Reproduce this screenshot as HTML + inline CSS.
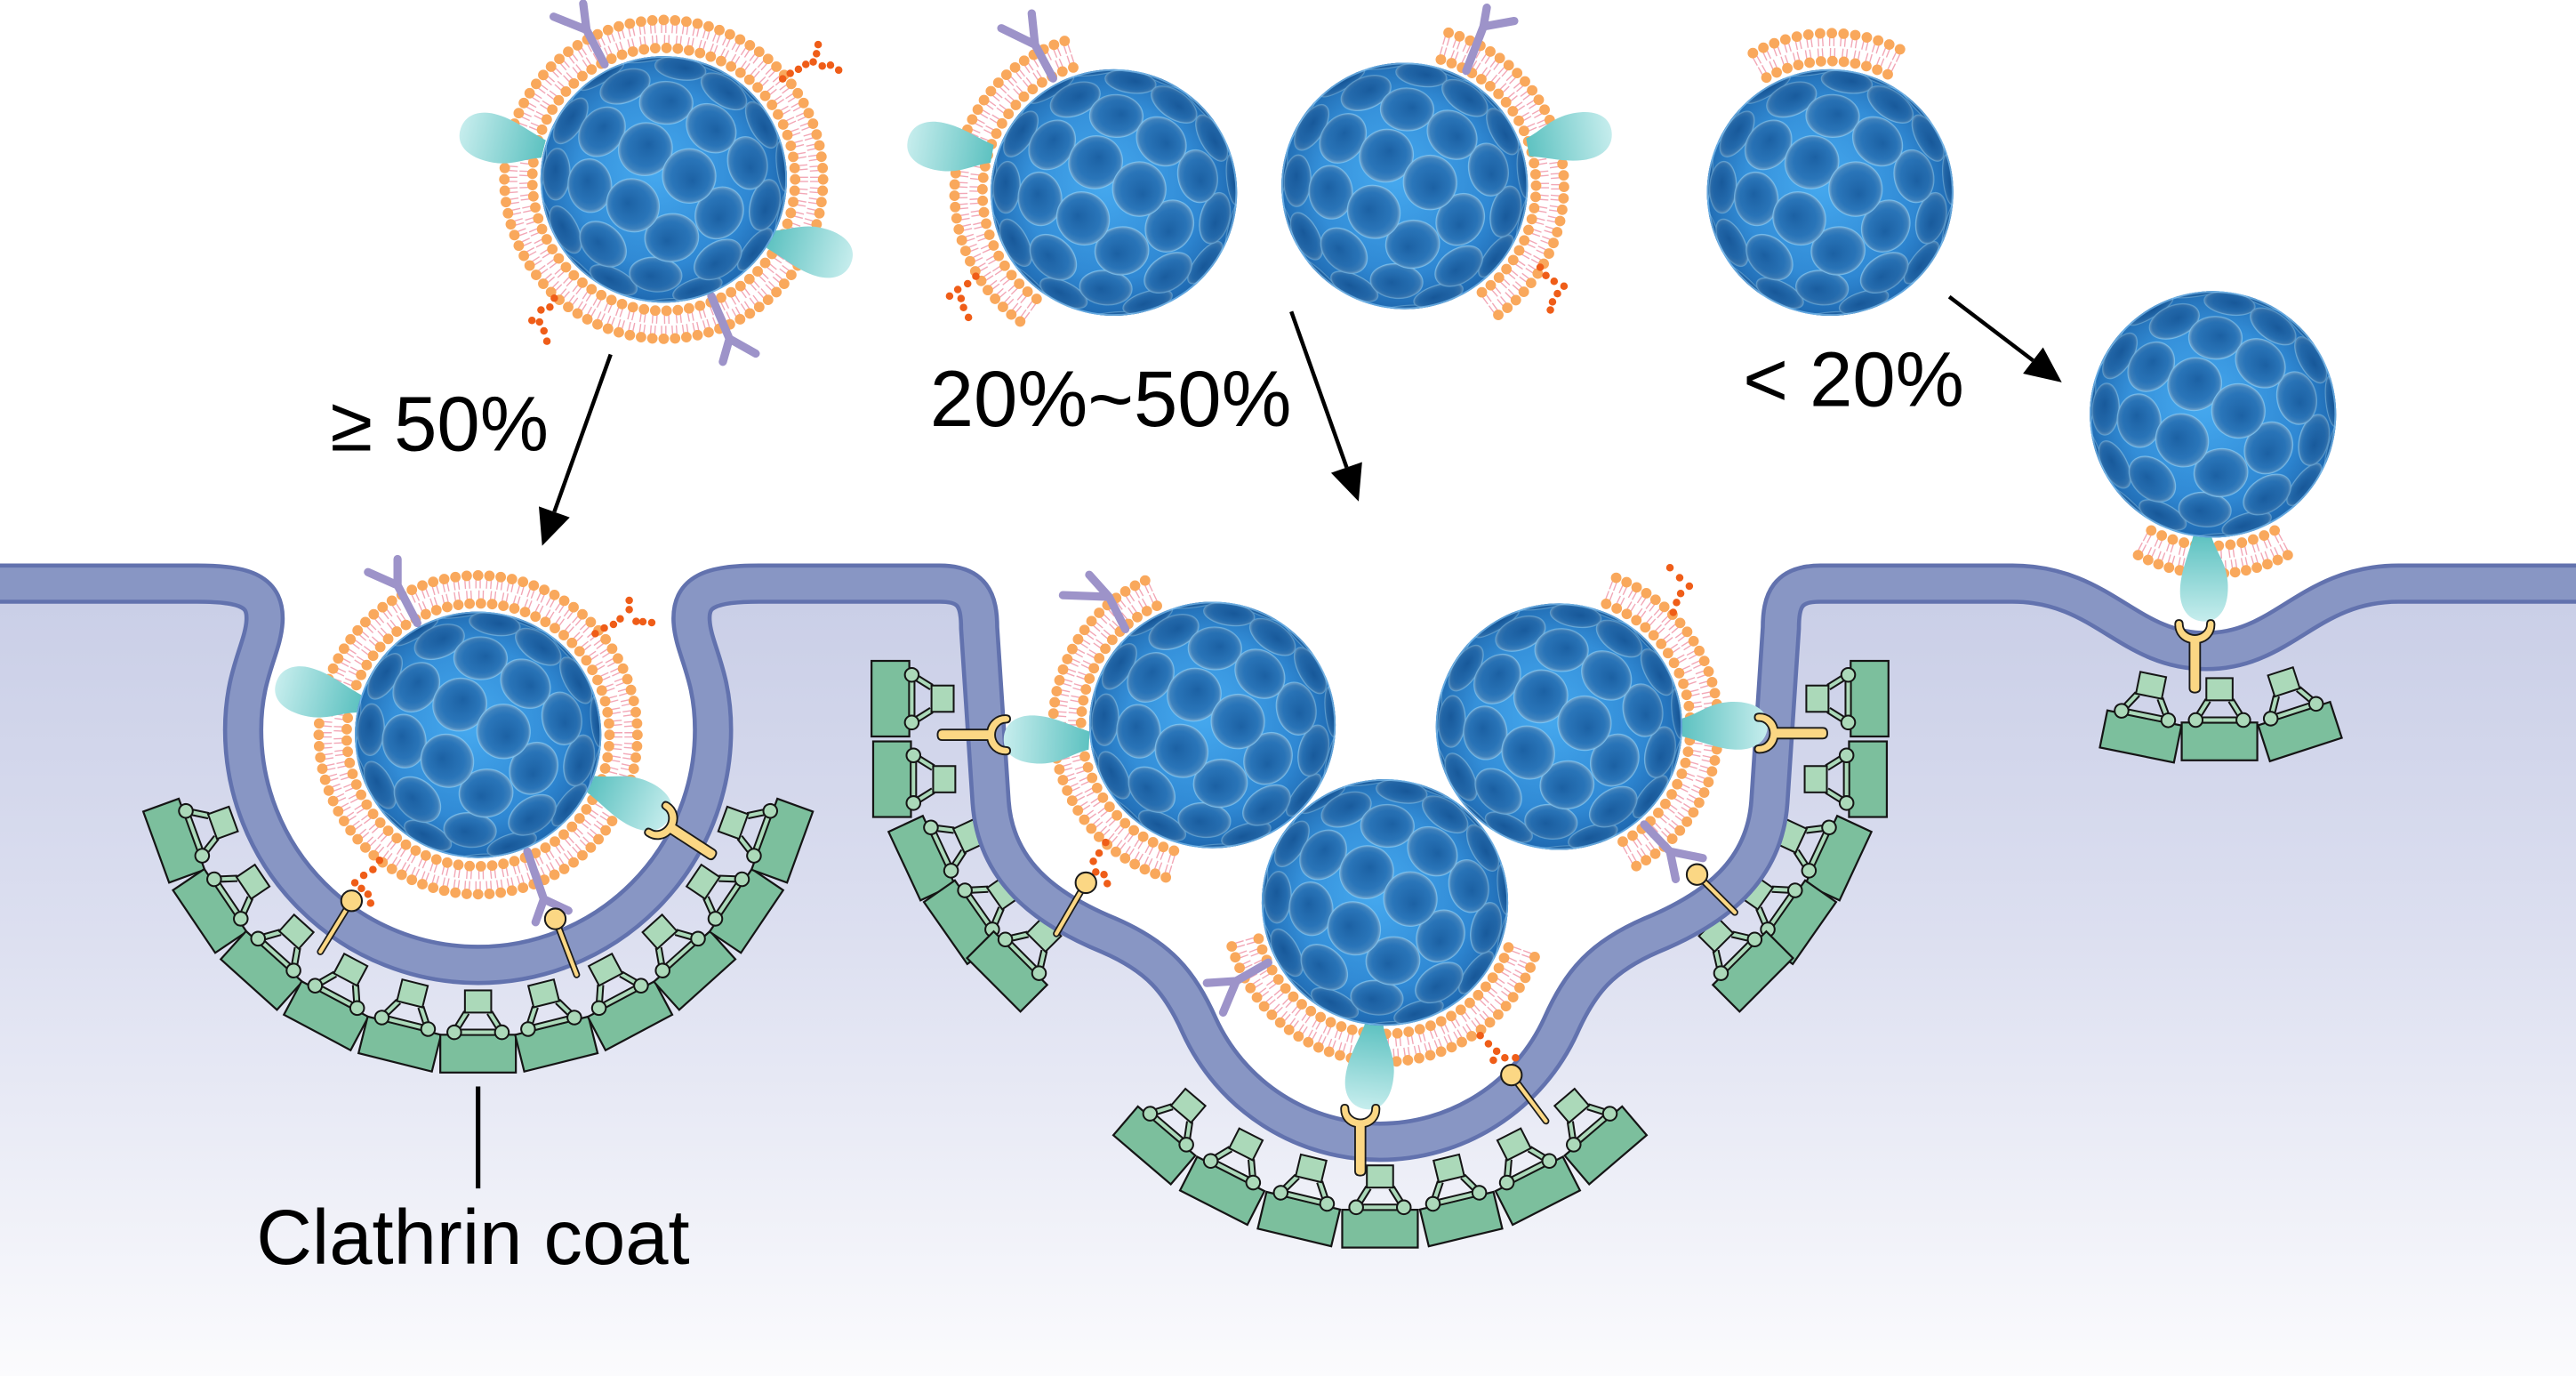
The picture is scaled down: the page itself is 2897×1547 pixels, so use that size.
<!DOCTYPE html>
<html><head><meta charset="utf-8">
<style>html,body{margin:0;padding:0;background:#fff;overflow:hidden}svg{display:block}</style>
</head><body>
<svg id="s" xmlns="http://www.w3.org/2000/svg" width="2897" height="1547" viewBox="0 0 1568 837">
<defs>
 <linearGradient id="cyto" x1="0" y1="345" x2="0" y2="837" gradientUnits="userSpaceOnUse">
  <stop offset="0" stop-color="#c8cde6"/>
  <stop offset="0.45" stop-color="#dcdff0"/>
  <stop offset="1" stop-color="#fbfbfd"/>
 </linearGradient>
 <radialGradient id="npBase" cx="0.45" cy="0.45" r="0.55">
  <stop offset="0" stop-color="#46aaf0"/><stop offset="1" stop-color="#2a82d0"/>
 </radialGradient>
 <radialGradient id="cell" cx="0.5" cy="0.5" r="0.5" fx="0.55" fy="0.6">
  <stop offset="0" stop-color="#1c62a5"/><stop offset="0.7" stop-color="#2a76ba"/><stop offset="0.9" stop-color="#3f84c0"/><stop offset="1" stop-color="#7eaed3"/>
 </radialGradient>
 <radialGradient id="npShade" cx="0.5" cy="0.5" r="0.5">
  <stop offset="0" stop-color="#0a3c78" stop-opacity="0"/><stop offset="0.7" stop-color="#0a3c78" stop-opacity="0.05"/><stop offset="1" stop-color="#0a3c78" stop-opacity="0.35"/>
 </radialGradient>
 <linearGradient id="lig" x1="0" y1="0" x2="1" y2="0">
  <stop offset="0" stop-color="#5ec2c1"/><stop offset="1" stop-color="#c6eded"/>
 </linearGradient>
 <clipPath id="npc"><circle r="75"/></clipPath>
 <g id="np"></g>
</defs>
<rect width="1568" height="837" fill="#fff"/>
<path fill="url(#cyto)" d="M-10,355 L120,355 C150,355 162,360 161,378 C160,395 148,410 148,444 A143,143 0 0 0 434,444 C434,410 422,395 421,378 C420,360 432,355 462,355 L572,355 C592,355 596,365 596,382 L603,488 C606,530 636,553 675,569 C705,582 718,597 730,624 A121,121 0 0 0 950,624 C962,597 975,582 1005,569 C1044,553 1074,530 1077,488 L1084,382 C1084,365 1088,355 1108,355 L1225,355 C1280,355 1295,396 1343,396 C1390,396 1405,355 1460,355 L1580,355 L1580,850 L-10,850 Z"/>
<g id="coat"></g>
<path fill="none" stroke="#6272ae" stroke-width="24.5" stroke-linejoin="round" d="M-10,355 L120,355 C150,355 162,360 161,378 C160,395 148,410 148,444 A143,143 0 0 0 434,444 C434,410 422,395 421,378 C420,360 432,355 462,355 L572,355 C592,355 596,365 596,382 L603,488 C606,530 636,553 675,569 C705,582 718,597 730,624 A121,121 0 0 0 950,624 C962,597 975,582 1005,569 C1044,553 1074,530 1077,488 L1084,382 C1084,365 1088,355 1108,355 L1225,355 C1280,355 1295,396 1343,396 C1390,396 1405,355 1460,355 L1580,355"/>
<path fill="none" stroke="#8896c4" stroke-width="19.5" stroke-linejoin="round" d="M-10,355 L120,355 C150,355 162,360 161,378 C160,395 148,410 148,444 A143,143 0 0 0 434,444 C434,410 422,395 421,378 C420,360 432,355 462,355 L572,355 C592,355 596,365 596,382 L603,488 C606,530 636,553 675,569 C705,582 718,597 730,624 A121,121 0 0 0 950,624 C962,597 975,582 1005,569 C1044,553 1074,530 1077,488 L1084,382 C1084,365 1088,355 1108,355 L1225,355 C1280,355 1295,396 1343,396 C1390,396 1405,355 1460,355 L1580,355"/>
<g id="nps"></g>
<g id="rec"></g>
<g id="arrows" fill="#000">
 <line x1="371.7" y1="215.5" x2="337.4" y2="311.3" stroke="#000" stroke-width="2.4"/>
 <polygon points="330,332 346.8,314.7 328,308"/>
 <line x1="786" y1="189.4" x2="819.7" y2="284.3" stroke="#000" stroke-width="2.4"/>
 <polygon points="827,305 829.1,281 810.2,287.6"/>
 <line x1="1186.5" y1="180.4" x2="1237.5" y2="219.2" stroke="#000" stroke-width="2.4"/>
 <polygon points="1255,232.5 1231.4,227.2 1243.6,211.2"/>
 <line x1="291" y1="661" x2="291" y2="723" stroke="#000" stroke-width="2.8"/>
</g>
<g font-family="'Liberation Sans', Arial, sans-serif" fill="#000">
 <text x="201" y="274" font-size="47">≥ 50%</text>
 <text x="566" y="259" font-size="48">20%~50%</text>
 <text x="1061" y="247" font-size="47">&lt; 20%</text>
 <text x="156" y="769" font-size="47">Clathrin coat</text>
</g>
</svg>
<script>
(function(){
const D=Math.PI/180;
function r2(n){return Math.round(n*100)/100;}
/* ---------- nanoparticle sphere ---------- */
let g='<circle r="75" fill="url(#npBase)"/><g clip-path="url(#npc)">';
const R=75,N=66,GA=Math.PI*(3-Math.sqrt(5));
let pts=[];
const tx=0.45,ty=0.25;
for(let i=0;i<N;i++){
 let y=1-2*(i+0.5)/N, rr=Math.sqrt(1-y*y), ph=i*GA;
 let x=Math.cos(ph)*rr, z=Math.sin(ph)*rr;
 let y2=y*Math.cos(tx)-z*Math.sin(tx), z2=y*Math.sin(tx)+z*Math.cos(tx);
 let x3=x*Math.cos(ty)+z2*Math.sin(ty), z3=-x*Math.sin(ty)+z2*Math.cos(ty);
 pts.push([x3,y2,z3]);
}
pts.sort((a,b)=>a[2]-b[2]);
const rc=R*0.222;
for(const p of pts){
 const x=p[0],y=p[1],z=p[2];
 if(z<0.0) continue;
 const X=x*R,Y=y*R,a=Math.atan2(y,x)/D;
 const rad=rc*Math.max(z,0.14), tan=rc*(0.9+0.1*z);
 g+='<ellipse cx="'+r2(X)+'" cy="'+r2(Y)+'" rx="'+r2(rad)+'" ry="'+r2(tan)+'" transform="rotate('+r2(a)+' '+r2(X)+' '+r2(Y)+')" fill="url(#cell)" stroke="#86cdfa" stroke-width="0.6" stroke-opacity="0.7"/>';
}
g+='</g><circle r="75" fill="url(#npShade)"/><circle r="74.5" fill="none" stroke="#8fd0ff" stroke-width="1" stroke-opacity="0.6"/>';
document.getElementById('np').innerHTML=g;

/* ---------- helpers ---------- */
function bilayer(cx,cy,a0,a1){
 const rI=80,rO=97,rm=(rI+rO)/2;
 const full=(a1-a0)>=359;
 let t='',h='';
 function ring(r,sp,tailTo){
  const A0=a0*D,A1=a1*D;
  const n=Math.max(1,Math.round((A1-A0)*r/sp));
  const cnt=full?n:n+1;
  for(let k=0;k<cnt;k++){
   const t0=A0+(A1-A0)*k/n, c=Math.cos(t0), s=Math.sin(t0);
   h+='<circle cx="'+r2(cx+r*c)+'" cy="'+r2(cy+r*s)+'" r="3.2"/>';
   for(const dd of [-1.3,1.3]){
    const px=-s*dd,py=c*dd;
    const ra=r+(tailTo>r?2.5:-2.5);
    t+='M'+r2(cx+ra*c+px)+','+r2(cy+ra*s+py)+'L'+r2(cx+tailTo*c+px)+','+r2(cy+tailTo*s+py);
   }
  }
 }
 ring(rO,6.9,rm+0.6);
 ring(rI,6.9,rm-0.6);
 return '<path d="'+t+'" stroke="#f2a7b6" stroke-width="0.75" fill="none"/><g fill="#f9a85c">'+h+'</g>';
}
function lig(x,y,a,sc){return '<path transform="translate('+x+','+y+') rotate('+a+') scale('+(sc||1)+')" d="M0,-6 C10,-9 16,-15 28,-16 C42,-17 52,-12 52,-2 C52,8 44,13 34,13 C22,13 12,8 0,5 Z" fill="url(#lig)"/>';}
function pY(b,br,e1,e2){return '<path d="M'+b+'L'+br+'L'+e1+'M'+br+'L'+e2+'" stroke="#9d93c9" stroke-width="5" stroke-linecap="round" stroke-linejoin="round" fill="none"/>';}
function gly(arr){let s='<g fill="#ef5d18">';for(const p of arr){s+='<circle cx="'+p[0]+'" cy="'+p[1]+'" r="2.3"/>';}return s+'</g>';}
function sph(x,y){return '<use href="#np" x="'+x+'" y="'+y+'"/>';}
const YP="M-13,-11 C-13,-4 -8,0 -3.5,1 L-3.5,31 Q-3.5,34 0,34 Q3.5,34 3.5,31 L3.5,1 C8,0 13,-4 13,-11 Q13,-14 10.5,-14 Q8,-14 8,-11 C8,-7 4,-4 0,-4 C-4,-4 -8,-7 -8,-11 Q-8,-14 -10.5,-14 Q-13,-14 -13,-11 Z";
function yR(x,y,th,sc){return '<path transform="translate('+x+','+y+') rotate('+th+') scale('+(sc||1)+')" d="'+YP+'" fill="#fbd784" stroke="#1b1b1b" stroke-width="1.1"/>';}
function lol(bx,by,ex,ey){return '<line x1="'+bx+'" y1="'+by+'" x2="'+ex+'" y2="'+ey+'" stroke="#1b1b1b" stroke-width="4.2" stroke-linecap="round"/><line x1="'+bx+'" y1="'+by+'" x2="'+ex+'" y2="'+ey+'" stroke="#fbd784" stroke-width="2.3" stroke-linecap="round"/><circle cx="'+bx+'" cy="'+by+'" r="6.3" fill="#fbd784" stroke="#1b1b1b" stroke-width="1.1"/>';}
function unit(x,y,th){
 const fr="M-7,-25 L-14.5,-13 L14.5,-13 L7,-25";
 return '<g transform="translate('+r2(x)+','+r2(y)+') rotate('+r2(th)+')">'+
 '<rect x="-23" y="-11.5" width="46" height="23" fill="#7cbf9d" stroke="#151515" stroke-width="1.2"/>'+
 '<path d="'+fr+'" fill="none" stroke="#151515" stroke-width="4.4" stroke-linejoin="round"/>'+
 '<path d="'+fr+'" fill="none" stroke="#abd9b9" stroke-width="2.2" stroke-linejoin="round"/>'+
 '<circle cx="-14.5" cy="-13" r="4.2" fill="#abd9b9" stroke="#151515" stroke-width="1.1"/>'+
 '<circle cx="14.5" cy="-13" r="4.2" fill="#abd9b9" stroke="#151515" stroke-width="1.1"/>'+
 '<rect x="-8" y="-38.5" width="16" height="13.5" fill="#abd9b9" stroke="#151515" stroke-width="1.1"/></g>';
}

/* ---------- clathrin coat ---------- */
let c='';
for(let p=-70;p<=70;p+=14){c+=unit(291+197*Math.sin(p*D),444+197*Math.cos(p*D),-p);}
const L=[[542,425,90],[543,474,90],[561,522,65],[585,561,55],[613,591,45]];
for(const u of L){c+=unit(u[0],u[1],u[2]);c+=unit(1680-u[0],u[1],-u[2]);}
for(let k=-3;k<=3;k++){const p=k*13.5;c+=unit(840+211.5*Math.sin(p*D),536+211.5*Math.cos(p*D),-p);}
c+=unit(1303,448,11.5)+unit(1351,451,0)+unit(1400,445,-18);
document.getElementById('coat').innerHTML=c;

/* ---------- nanoparticles ---------- */
let n='';
// NP1
n+=bilayer(404,109,0,360);
n+=pY('368,39','357,18','355,2','337,10')+pY('433,180','444,206','440,220','460,215');
n+=lig(331,90,194)+lig(468,146,16);
n+=sph(404,109);
n+=gly([[476.4,47.8],[481,44.5],[486,42],[490.5,39],[495,37.5],[497,32.5],[498,27],[500.5,40],[505.5,39.5],[510.5,42.5]]);
n+=gly([[337.4,181.3],[334.7,186.7],[329.3,188.5],[323.8,194.8],[328.4,195.8],[331.1,201.2],[332.9,207.5]]);
// NP2
n+=bilayer(678,117,126,252);
n+=pY('641,47.6','630,27','628,8','609.5,17');
n+=lig(604,93,190);
n+=sph(678,117);
n+=gly([[594,168],[589,172.5],[583,176],[578,180],[585,181.5],[586.5,187],[589.5,193]]);
// NP3
n+=bilayer(855,113,-74,54);
n+=pY('892.5,43','903,16','905,4.5','921.7,12.6');
n+=lig(930,90,-10);
n+=sph(855,113);
n+=gly([[937.5,162.5],[941,167.5],[946,171],[952,174],[948,178.5],[945,183.5],[943.7,188.5]]);
// NP4
n+=bilayer(1114,117,-119,-64);
n+=sph(1114,117);
// NP5
n+=bilayer(1347,252,62,118);
n+=lig(1340,326,90);
n+=sph(1347,252);
// Pit1 NP
n+=bilayer(291,447,0,360);
n+=pY('254,379','242,356','242,340','224,348')+pY('321,518','331,547','326,561','346,554');
n+=lig(218.6,427.6,195)+lig(359.5,477.5,24);
n+=sph(291,447);
n+=gly([[362.3,385.4],[367.8,382],[373.4,379.8],[377.5,376.4],[383,370.8],[383,365.2],[387.2,378],[391.3,378.2],[396.7,378.7]]);
n+=gly([[231,523.4],[227,529],[221.4,532.5],[216,537],[220,540.5],[224,544],[225.6,549.4]]);
// Pit2 upper-left
n+=bilayer(738,441,107,245);
n+=pY('685,382.7','675,363','663,349.6','647,362');
n+=lig(663,450,183);
n+=sph(738,441);
n+=gly([[673,512.5],[669,519],[665.5,524],[667,530.5],[672,532],[674,537.5]]);
// Pit2 upper-right
n+=bilayer(949,442,-69,61);
n+=pY('1000.8,501.5','1016.5,518','1020,534.8','1036.5,522');
n+=lig(1024,443,0);
n+=sph(949,442);
n+=gly([[1016.5,345.3],[1022.4,351.4],[1028.3,356.5],[1023,361],[1020.5,366.5],[1018.5,372.5]]);
// Pit2 bottom
n+=bilayer(843,549,20,164);
n+=pY('772,585.6','752.5,596.8','734.6,598','744.5,616');
n+=lig(836,623,97);
n+=sph(843,549);
n+=gly([[901,630],[906,635],[911,639.5],[909,645],[916,643.5],[922.5,643.5]]);
document.getElementById('nps').innerHTML=n;

/* ---------- receptors ---------- */
let r='';
r+=yR(1336,390,0,0.92);
r+=yR(828,684.6,0,0.9);
r+=yR(602,447,90,0.92);
r+=yR(1081,446,-90,0.92);
r+=yR(409,504,-57,0.92);
r+=lol(214,548,195,579)+lol(338,559,351,593);
r+=lol(661,537,643,568)+lol(920,654,941,682)+lol(1033,532,1056,555);
document.getElementById('rec').innerHTML=r;
})();
</script>
</body></html>
